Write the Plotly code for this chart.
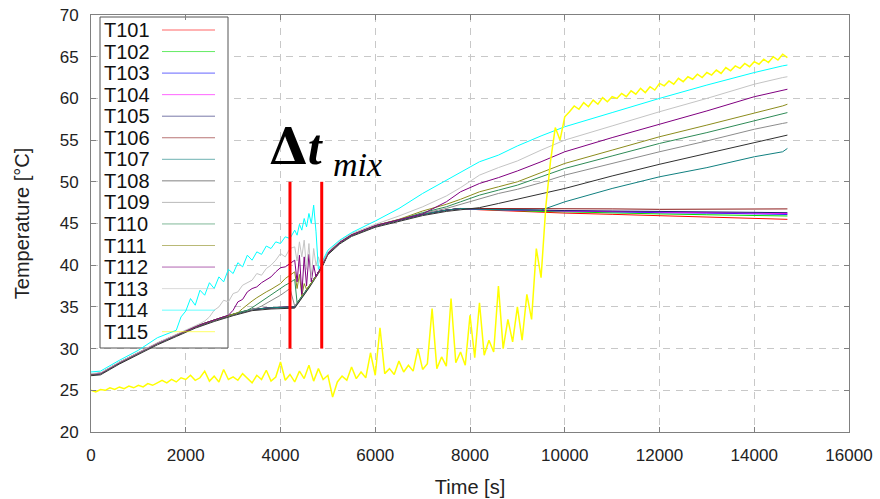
import plotly.graph_objects as go

# ---------------- data ----------------
series_names = ["T101", "T102", "T103", "T104", "T105", "T106", "T107", "T108",
                "T109", "T110", "T111", "T112", "T113", "T114", "T115"]
series_colors = ["#ff0000", "#00e000", "#0000ff", "#ff00ff", "#202070", "#8b1a1a",
                 "#108080", "#303030", "#8c8c8c", "#2e8b57", "#8c8c1c", "#800080",
                 "#c4c4c4", "#00ffff", "#ffff00"]
series_widths = [1] * 14 + [1.5]

# time stamps [s]
time_main = [0, 200, 600, 1000, 1400, 1800, 2200, 2600, 3000, 3400, 3800, 4300, 4600, 4850,
             5000, 5250, 5500, 6000, 6500, 7000, 7500, 7800, 8200, 8600, 9000, 9500, 10000,
             11000, 12000, 13000, 14000, 14600, 14700]
time_upper = [0, 200, 600, 1000, 1400,
              1800, 1900, 2000, 2100, 2200, 2300, 2400, 2500, 2600, 2700, 2800, 2900, 3000,
              3100, 3200, 3300, 3400, 3500, 3600, 3700, 3800, 3900, 4000, 4100, 4200,
              4300, 4350, 4400, 4450, 4500, 4550, 4600, 4650, 4700, 4750, 4800, 4850,
              4950, 5000, 5250, 5500, 6000, 6500, 7000, 7500, 7800, 8200, 8600, 9000, 9500,
              10000, 11000, 12000, 13000, 14000, 14600, 14700]
time_t115 = list(range(0, 14701, 100))

# common early course of the lower sensors (0 ... 7800 s)
early_main = [26.9, 27.0, 28.3, 29.5, 30.6, 31.6, 32.6, 33.4, 34.1, 34.7, 34.9, 35.0, 37.4,
              39.6, 41.4, 42.7, 43.6, 44.7, 45.4, 46.1, 46.6, 46.8]

t101 = early_main + [46.65, 46.55, 46.45, 46.35, 46.25, 46.1, 45.95, 45.8, 45.65, 45.55, 45.5]
t102 = early_main + [46.7, 46.6, 46.5, 46.45, 46.4, 46.25, 46.15, 46.05, 45.95, 45.9, 45.9]
t103 = early_main + [46.7, 46.65, 46.6, 46.55, 46.5, 46.4, 46.3, 46.25, 46.15, 46.1, 46.1]
t104 = early_main + [46.7, 46.65, 46.6, 46.55, 46.5, 46.45, 46.35, 46.3, 46.25, 46.2, 46.2]
t105 = early_main + [46.75, 46.7, 46.65, 46.6, 46.55, 46.5, 46.45, 46.4, 46.35, 46.3, 46.3]
t106 = early_main + [46.8, 46.8, 46.75, 46.75, 46.75, 46.75, 46.7, 46.7, 46.7, 46.7, 46.75]
t107 = early_main + [46.7, 46.65, 46.6, 46.6, 47.6, 49.2, 50.6, 51.7, 53.0, 53.6, 54.0]
t108 = [26.75, 26.85, 28.15, 29.35, 30.45, 31.45, 32.45, 33.25, 33.95, 34.55, 34.75, 34.85,
        37.25, 39.45, 41.25, 42.55, 43.45, 44.55, 45.25, 45.95, 46.45, 46.65,
        46.9, 47.4, 47.9, 48.5, 49.2, 50.7, 52.1, 53.4, 54.7, 55.5, 55.6]

t109 = [26.95, 27.05, 28.35, 29.55, 30.65,
        31.65, 31.9, 32.15, 32.4, 32.65, 32.85, 33.05, 33.25, 33.45, 33.65, 33.8, 33.95, 34.15,
        34.3, 34.45, 34.6, 34.75, 34.85, 35.1, 35.4, 35.7, 36.1, 36.4, 36.8, 37.2,
        35.1, 35.45, 35.85, 36.25, 36.65, 37.05, 37.45, 37.85, 38.25, 38.65, 39.05, 39.65,
        40.85, 41.45, 42.75, 43.65, 44.75, 45.45, 46.2, 46.8, 47.3, 48.0, 48.6, 49.1, 49.9,
        50.8, 52.2, 53.6, 54.9, 56.3, 57.0, 57.1]
t110 = [26.95, 27.05, 28.35, 29.55, 30.65,
        31.65, 31.9, 32.15, 32.4, 32.65, 32.85, 33.05, 33.25, 33.45, 33.65, 33.8, 33.95, 34.15,
        34.3, 34.45, 34.6, 34.9, 35.3, 35.7, 36.0, 36.4, 36.8, 37.2, 37.6, 37.9,
        38.3, 35.5, 35.85, 36.25, 36.65, 37.05, 37.45, 37.85, 38.25, 38.65, 39.05, 39.65,
        40.85, 41.45, 42.75, 43.65, 44.75, 45.45, 46.3, 47.0, 47.6, 48.4, 49.0, 49.6, 50.6,
        51.6, 53.1, 54.6, 55.9, 57.3, 58.1, 58.3]
t111 = [26.95, 27.05, 28.35, 29.55, 30.65,
        31.65, 31.9, 32.15, 32.4, 32.65, 32.85, 33.05, 33.25, 33.45, 33.65, 33.8, 33.95, 34.15,
        34.3, 34.8, 35.3, 35.7, 36.1, 36.5, 36.8, 37.1, 37.5, 37.8, 38.4, 38.8,
        39.2, 37.2, 38.9, 36.3, 37.8, 37.1, 37.5, 37.85, 38.25, 38.65, 39.05, 39.65,
        40.85, 41.45, 42.75, 43.65, 44.75, 45.5, 46.5, 47.3, 47.9, 48.8, 49.4, 50.0, 51.1,
        52.2, 53.8, 55.4, 56.8, 58.2, 59.1, 59.3]
t112 = [26.95, 27.05, 28.35, 29.55, 30.65,
        31.65, 31.9, 32.15, 32.4, 32.65, 32.85, 33.05, 33.25, 33.45, 33.65, 33.8, 34.0, 34.6,
        35.6, 35.9, 36.8, 37.2, 37.4, 37.9, 38.3, 38.6, 39.2, 39.7, 39.8, 40.2,
        40.6, 38.0, 41.2, 36.5, 41.0, 37.5, 41.3, 38.0, 40.0, 38.6, 39.2, 39.7,
        40.85, 41.45, 42.75, 43.65, 44.75, 45.45, 46.15, 47.6, 48.8, 49.8, 50.5, 51.3, 52.4,
        53.6, 55.3, 56.9, 58.5, 60.2, 61.0, 61.1]
t113 = [27.0, 27.1, 28.4, 29.6, 30.7,
        31.7, 31.95, 32.2, 32.5, 32.7, 33.0, 33.3, 33.8, 34.6, 35.0, 35.8, 35.6, 36.6,
        36.8, 37.6, 37.9, 38.2, 39.0, 38.8, 39.6, 40.0, 40.6, 41.4, 41.0, 42.0,
        42.2, 40.5, 42.8, 41.0, 43.0, 39.5, 42.6, 38.5, 42.0, 40.0, 41.0, 40.0,
        41.0, 41.6, 42.9, 43.8, 44.9, 45.9, 47.0, 48.3, 49.3, 50.8, 51.7, 52.5, 53.8,
        55.0, 56.7, 58.4, 60.0, 61.7, 62.5, 62.6]
t114 = [27.2, 27.3, 28.6, 29.8, 31.3,
        32.2, 33.8, 34.5, 36.0, 35.2, 37.0, 36.4, 37.9, 37.2, 38.6, 38.0, 39.5, 39.0,
        40.3, 39.8, 41.2, 40.6, 41.6, 41.3, 42.3, 42.0, 42.8, 42.6, 43.4, 43.2,
        44.2, 43.6, 44.9, 44.2, 45.6, 44.6, 46.2, 45.0, 47.2, 44.0, 39.5, 40.1,
        41.3, 41.8, 43.0, 43.9, 45.3, 46.8, 48.6, 50.2, 51.2, 52.4, 53.2, 54.3, 55.5,
        56.6, 58.3, 60.0, 61.6, 63.1, 63.9, 64.0]
t115 = [25.0, 24.8, 25.1, 25.0, 25.3, 25.1, 25.4, 25.2, 25.5, 25.3, 25.6, 25.4, 25.8, 25.6,
        25.9, 26.2, 25.9, 26.3, 26.0, 26.5, 26.3,
        26.8, 26.2, 26.5, 27.3, 26.1, 26.7, 26.0, 27.5, 26.3, 26.6, 26.2, 27.0, 26.4, 25.9,
        26.8, 26.3, 27.4, 26.1, 26.6, 28.4,
        26.2, 26.9, 26.0, 27.3, 26.4, 28.0, 26.1, 27.6, 26.3, 26.8, 24.2, 26.0, 26.7, 26.2,
        27.8, 26.4, 27.2, 26.5, 29.5, 26.8,
        32.5, 27.0, 27.6, 26.9, 28.5, 27.2, 28.0, 27.3, 30.0, 27.5, 28.2, 34.8, 27.6, 29.0,
        27.9, 36.0, 28.3, 29.6, 28.0, 34.0,
        28.9, 35.5, 29.2, 31.0, 29.6, 37.5, 30.0, 33.5, 30.8, 35.0,
        31.0, 36.5, 33.5, 42.0, 38.5, 47.0, 52.5, 56.5, 55.0, 57.8,
        58.4, 59.1, 58.7, 59.5, 59.0, 59.8, 59.3, 60.1, 59.6, 60.2,
        60.0, 60.6, 60.2, 60.9, 60.5, 61.2, 60.7, 61.4, 61.0, 61.8,
        61.5, 62.1, 61.7, 62.4, 62.0, 62.6, 62.3, 62.9, 62.5, 63.1,
        62.8, 63.4, 63.0, 63.7, 63.3, 63.9, 63.6, 64.2, 63.8, 64.4,
        64.1, 64.7, 64.3, 65.0, 64.6, 65.3, 64.9]

series_times = [time_main] * 8 + [time_upper] * 6 + [time_t115]
series_values = [t101, t102, t103, t104, t105, t106, t107, t108,
                 t109, t110, t111, t112, t113, t114, t115]

# mixing interval markers
mix_times = [4200, 4870]
mix_span = [30, 50]

x_ticks = list(range(0, 16001, 2000))
x_ticktext = [str(v) for v in x_ticks]
y_ticks = list(range(20, 71, 5))

X_RANGE = [0, 16000]
Y_RANGE = [20, 70]

# ---------------- figure ----------------
fig = go.Figure()
for name, color, wd, tt, vv in zip(series_names, series_colors, series_widths,
                                    series_times, series_values):
    assert len(tt) == len(vv), (name, len(tt), len(vv))
    fig.add_trace(go.Scatter(x=tt, y=vv, mode="lines", name=name,
                             line=dict(color=color, width=wd), showlegend=False))

for mt in mix_times:
    fig.add_trace(go.Scatter(x=[mt, mt], y=mix_span, mode="lines",
                             line=dict(color="#ff0000", width=3),
                             showlegend=False, hoverinfo="skip"))

# custom legend (text left, line sample right, as in the original)
L, T, PW, PH = 91, 15, 758.0, 417.0
def px_x(p):
    return (p - L) / PW
def px_y(p):
    return 1 - (p - T) / PH
def dx(p):
    return X_RANGE[0] + px_x(p) * (X_RANGE[1] - X_RANGE[0])
def dy(p):
    return Y_RANGE[0] + px_y(p) * (Y_RANGE[1] - Y_RANGE[0])

# legend frame drawn between grid and traces (data-referenced so 'between' applies)
shapes = [dict(type="rect", xref="x", yref="y",
               x0=dx(100), x1=dx(228), y0=dy(348), y1=dy(17),
               line=dict(color="#555555", width=1), fillcolor="white", layer="between")]
annotations = []
for i, (name, color) in enumerate(zip(series_names, series_colors)):
    yc = 30 + i * 21.55
    annotations.append(dict(xref="paper", yref="paper", x=px_x(102), y=px_y(yc),
                            xanchor="left", yanchor="middle", text=name, showarrow=False,
                            font=dict(family="Liberation Sans, Arial", size=20, color="#111111")))
    shapes.append(dict(type="line", xref="paper", yref="paper",
                       x0=px_x(162), x1=px_x(215), y0=px_y(yc), y1=px_y(yc),
                       line=dict(color=color, width=1), layer="above", opacity=0.6))

# Δt_mix label
annotations.append(dict(x=dx(267), y=dy(146), xref="x", yref="y", xanchor="left", yanchor="middle",
                        text="<span style='font-family:DejaVu Serif'><b>Δ</b></span>"
                             "<b><i>t</i></b>",
                        showarrow=False,
                        font=dict(family="Liberation Serif, Times New Roman", size=50, color="black")))
annotations.append(dict(x=dx(331), y=dy(164), xref="x", yref="y", xanchor="left", yanchor="middle",
                        text="<i>mix</i>", showarrow=False,
                        font=dict(family="Liberation Serif, Times New Roman", size=34, color="black")))

axis_common = dict(showline=True, linecolor="#808080", linewidth=1, mirror="ticks",
                   ticks="inside", ticklen=5, tickcolor="#808080", automargin=False,
                   showgrid=True, gridcolor="#c8c8c8", gridwidth=1, griddash="7px,6px",
                   zeroline=False,
                   tickfont=dict(family="Liberation Sans, Arial", size=17, color="#222222"))

fig.update_layout(
    width=880, height=499,
    margin=dict(l=91, r=31, t=15, b=67),
    paper_bgcolor="white", plot_bgcolor="white",
    showlegend=False,
    shapes=shapes, annotations=annotations,
    xaxis=dict(range=X_RANGE, tickvals=x_ticks, ticktext=x_ticktext, ticklabelstandoff=8,
               title=dict(text="Time [s]", standoff=15,
                          font=dict(family="Liberation Sans, Arial", size=20, color="#222222")),
               **axis_common),
    yaxis=dict(range=Y_RANGE, tickvals=y_ticks, ticklabelstandoff=8,
               title=dict(text="Temperature [°C]", standoff=24,
                          font=dict(family="Liberation Sans, Arial", size=20, color="#222222")),
               **axis_common),
)

fig.write_html("out.html")
